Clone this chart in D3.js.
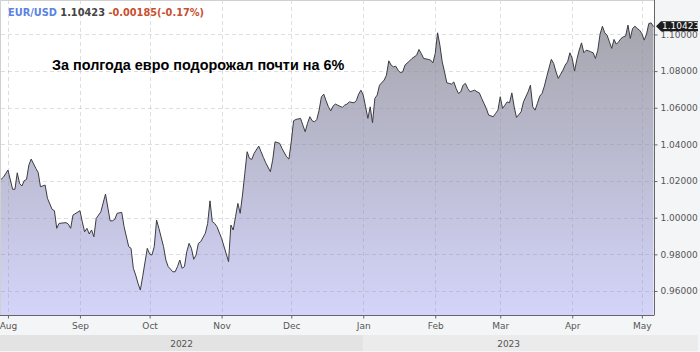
<!DOCTYPE html>
<html>
<head>
<meta charset="utf-8">
<script src="https://cdn.jsdelivr.net/npm/d3@7"></script>
<style>
  body { margin: 0; background: #f4f5f7; }
  svg { display: block; font-family: "DejaVu Sans", sans-serif; }
</style>
</head>
<body>
<div id="chart"></div>
<script>
// EUR/USD, end of Jul 2022 - start of May 2023
const dates = [
  "2022-07-29","2022-07-30","2022-08-01","2022-08-03","2022-08-04","2022-08-05","2022-08-06","2022-08-07",
  "2022-08-08","2022-08-09","2022-08-10","2022-08-11","2022-08-13","2022-08-14","2022-08-15","2022-08-17",
  "2022-08-18","2022-08-20","2022-08-21","2022-08-22","2022-08-23","2022-08-26","2022-08-27","2022-08-28",
  "2022-08-29","2022-09-01","2022-09-02","2022-09-03","2022-09-04","2022-09-05","2022-09-06","2022-09-07",
  "2022-09-08","2022-09-10","2022-09-12","2022-09-14","2022-09-15","2022-09-16","2022-09-17","2022-09-19",
  "2022-09-20","2022-09-22","2022-09-23","2022-09-24","2022-09-25","2022-09-26","2022-09-27","2022-09-28",
  "2022-09-30","2022-10-01","2022-10-02","2022-10-03","2022-10-04","2022-10-05","2022-10-07","2022-10-08",
  "2022-10-09","2022-10-11","2022-10-12","2022-10-13","2022-10-14","2022-10-15","2022-10-16","2022-10-17",
  "2022-10-18","2022-10-19","2022-10-20","2022-10-21","2022-10-22","2022-10-23","2022-10-25","2022-10-26",
  "2022-10-27","2022-10-28","2022-10-29","2022-10-30","2022-11-01","2022-11-02","2022-11-04","2022-11-05",
  "2022-11-06","2022-11-07","2022-11-08","2022-11-09","2022-11-10","2022-11-11","2022-11-12","2022-11-13",
  "2022-11-14","2022-11-15","2022-11-17","2022-11-18","2022-11-19","2022-11-20","2022-11-22","2022-11-23",
  "2022-11-24","2022-11-26","2022-11-27","2022-11-29","2022-11-30","2022-12-01","2022-12-02","2022-12-03",
  "2022-12-05","2022-12-06","2022-12-07","2022-12-08","2022-12-09","2022-12-10","2022-12-11","2022-12-12",
  "2022-12-13","2022-12-14","2022-12-15","2022-12-16","2022-12-17","2022-12-18","2022-12-19","2022-12-20",
  "2022-12-21","2022-12-23","2022-12-24","2022-12-25","2022-12-26","2022-12-28","2022-12-29","2022-12-30",
  "2022-12-31","2023-01-01","2023-01-02","2023-01-03","2023-01-04","2023-01-05","2023-01-06","2023-01-07",
  "2023-01-08","2023-01-10","2023-01-11","2023-01-12","2023-01-13","2023-01-14","2023-01-15","2023-01-16",
  "2023-01-17","2023-01-18","2023-01-19","2023-01-21","2023-01-22","2023-01-24","2023-01-25","2023-01-26",
  "2023-01-27","2023-01-29","2023-01-30","2023-01-31","2023-02-01","2023-02-02","2023-02-03","2023-02-04",
  "2023-02-05","2023-02-06","2023-02-07","2023-02-08","2023-02-09","2023-02-10","2023-02-11","2023-02-12",
  "2023-02-13","2023-02-14","2023-02-15","2023-02-16","2023-02-17","2023-02-18","2023-02-19","2023-02-20",
  "2023-02-21","2023-02-22","2023-02-23","2023-02-24","2023-02-26","2023-02-27","2023-02-28","2023-03-01",
  "2023-03-02","2023-03-03","2023-03-04","2023-03-05","2023-03-06","2023-03-07","2023-03-08","2023-03-10",
  "2023-03-11","2023-03-13","2023-03-14","2023-03-15","2023-03-16","2023-03-17","2023-03-18","2023-03-19",
  "2023-03-20","2023-03-21","2023-03-23","2023-03-24","2023-03-25","2023-03-26","2023-03-27","2023-03-28",
  "2023-03-29","2023-03-30","2023-03-31","2023-04-01","2023-04-02","2023-04-03","2023-04-04","2023-04-05",
  "2023-04-06","2023-04-07","2023-04-08","2023-04-09","2023-04-10","2023-04-11","2023-04-12","2023-04-13",
  "2023-04-14","2023-04-15","2023-04-16","2023-04-17","2023-04-18","2023-04-19","2023-04-20","2023-04-21",
  "2023-04-22","2023-04-23","2023-04-24","2023-04-25","2023-04-26","2023-04-27","2023-04-28","2023-04-29",
  "2023-04-30","2023-05-01","2023-05-02","2023-05-03","2023-05-04","2023-05-05","2023-05-06"
];
const rates = [
  1.0209,1.0220,1.0260,1.0155,1.0155,1.0245,1.0187,1.0173,
  1.0202,1.0209,1.0287,1.0320,1.0269,1.0247,1.0169,1.0178,
  1.0106,1.0046,1.0038,0.9942,0.9969,0.9973,0.9965,0.9942,
  1.0014,1.0038,0.9978,0.9923,0.9942,0.9911,0.9933,0.9896,
  0.9996,1.0032,1.0129,0.9983,0.9983,0.9991,1.0024,1.0029,
  0.9951,0.9842,0.9833,0.9724,0.9687,0.9642,0.9605,0.9678,
  0.9833,0.9802,0.9796,0.9842,0.9987,0.9942,0.9842,0.9769,
  0.9733,0.9705,0.9705,0.9733,0.9769,0.9724,0.9733,0.9814,
  0.9860,0.9833,0.9773,0.9796,0.9860,0.9869,0.9915,0.9969,
  1.0092,0.9978,0.9969,0.9951,0.9887,0.9845,0.9760,0.9960,
  0.9933,1.0005,1.0078,1.0024,1.0124,1.0242,1.0360,1.0324,
  1.0318,1.0351,1.0391,1.0360,1.0329,1.0300,1.0251,1.0314,
  1.0414,1.0406,1.0378,1.0332,1.0320,1.0414,1.0529,1.0536,
  1.0542,1.0505,1.0469,1.0515,1.0551,1.0529,1.0523,1.0536,
  1.0587,1.0660,1.0674,1.0638,1.0605,1.0583,1.0609,1.0620,
  1.0614,1.0602,1.0614,1.0620,1.0632,1.0627,1.0638,1.0674,
  1.0696,1.0669,1.0605,1.0542,1.0605,1.0518,1.0651,1.0669,
  1.0723,1.0751,1.0778,1.0856,1.0833,1.0823,1.0827,1.0805,
  1.0791,1.0796,1.0833,1.0856,1.0869,1.0887,1.0918,1.0896,
  1.0869,1.0864,1.0860,1.0845,1.0896,1.1009,1.0942,1.0851,
  1.0796,1.0736,1.0733,1.0729,1.0741,1.0705,1.0678,1.0687,
  1.0723,1.0733,1.0705,1.0687,1.0692,1.0696,1.0687,1.0681,
  1.0651,1.0624,1.0596,1.0560,1.0551,1.0569,1.0587,1.0660,
  1.0596,1.0614,1.0632,1.0627,1.0681,1.0605,1.0547,1.0578,
  1.0632,1.0687,1.0723,1.0605,1.0587,1.0624,1.0663,1.0678,
  1.0718,1.0769,1.0864,1.0842,1.0796,1.0760,1.0783,1.0805,
  1.0833,1.0851,1.0900,1.0869,1.0800,1.0864,1.0914,1.0954,
  1.0900,1.0914,1.0911,1.0905,1.0900,1.0869,1.0914,1.1002,
  1.1045,1.1009,1.0996,1.0960,1.0924,1.0973,1.0947,1.0960,
  1.0978,1.0987,1.0991,1.1051,1.0978,1.1033,1.1045,1.1033,
  1.1023,1.1005,1.0969,1.1002,1.1060,1.1063,1.10423
];
const yTicks = [0.96, 0.98, 1.00, 1.02, 1.04, 1.06, 1.08, 1.10];
const years = ["2022", "2023"];
const title = "За полгода евро подорожал почти на 6%";
const symbol = "EUR/USD";
const lastPrice = "1.10423";
const change = "-0.00185(-0.17%)";

const W = 700, H = 352;
const plot = { left: 1, right: 654, top: 0, bottom: 315 };

const parse = d3.timeParse("%Y-%m-%d");
const data = dates.map((d, i) => ({ date: parse(d), value: rates[i] }));

const svg = d3.select("#chart").append("svg")
    .attr("width", W)
    .attr("height", H);

svg.append("rect").attr("width", W).attr("height", H).attr("fill", "#f4f5f7");

const x = d3.scaleTime()
    .domain(d3.extent(data, d => d.date))
    .range([plot.left, plot.right - 0.5]);

const y = d3.scaleLinear()
    .domain([0.9469, 1.1188])
    .range([plot.bottom, plot.top]);

// gradient for the area
const defs = svg.append("defs");
const grad = defs.append("linearGradient")
    .attr("id", "fillGrad")
    .attr("gradientUnits", "userSpaceOnUse")
    .attr("x1", 0).attr("x2", 0)
    .attr("y1", plot.top).attr("y2", plot.bottom);
grad.append("stop").attr("offset", "0%").attr("stop-color", "#a2a2a8");
grad.append("stop").attr("offset", "100%").attr("stop-color", "#d4d4fa");

defs.append("clipPath").attr("id", "plotClip")
    .append("rect")
    .attr("x", plot.left).attr("y", plot.top)
    .attr("width", plot.right - plot.left).attr("height", plot.bottom - plot.top);

// plot background
svg.append("rect")
    .attr("x", plot.left).attr("y", plot.top)
    .attr("width", plot.right - plot.left).attr("height", plot.bottom - plot.top)
    .attr("fill", "#ffffff");

const g = svg.append("g").attr("clip-path", "url(#plotClip)");

const area = d3.area()
    .x(d => x(d.date))
    .y0(plot.bottom)
    .y1(d => y(d.value));

const line = d3.line()
    .x(d => x(d.date))
    .y(d => y(d.value));

g.append("path")
    .datum(data)
    .attr("d", area)
    .attr("fill", "url(#fillGrad)");

// grid lines (dashed, on top of the fill)
const monthTicks = x.ticks(d3.timeMonth.every(1));

g.append("g")
    .selectAll("line")
    .data(yTicks)
    .join("line")
    .attr("x1", plot.left).attr("x2", plot.right)
    .attr("y1", d => Math.round(y(d)) + 0.5)
    .attr("y2", d => Math.round(y(d)) + 0.5)
    .attr("stroke", "#8c8c9c")
    .attr("stroke-opacity", 0.28)
    .attr("stroke-dasharray", "4,3");

g.append("g")
    .selectAll("line")
    .data(monthTicks)
    .join("line")
    .attr("x1", d => Math.round(x(d)) + 0.5)
    .attr("x2", d => Math.round(x(d)) + 0.5)
    .attr("y1", plot.top).attr("y2", plot.bottom)
    .attr("stroke", "#8c8c9c")
    .attr("stroke-opacity", 0.28)
    .attr("stroke-dasharray", "4,3");

g.append("path")
    .datum(data)
    .attr("d", line)
    .attr("fill", "none")
    .attr("stroke", "#3c3c40")
    .attr("stroke-width", 1)
    .attr("stroke-linejoin", "round");

// plot frame
svg.append("path")
    .attr("d", `M${plot.left - 0.5},${plot.bottom}V${plot.top + 0.5}H${plot.right}`)
    .attr("fill", "none")
    .attr("stroke", "#d0d0d0");

// right axis
const yAxis = svg.append("g")
    .attr("transform", `translate(${plot.right + 0.5},0)`)
    .call(d3.axisRight(y)
        .tickValues(yTicks)
        .tickFormat(d3.format(".5f"))
        .tickSize(3)
        .tickPadding(3));
yAxis.select(".domain").attr("stroke", "#666").attr("d", `M0,${plot.top}V${plot.bottom}`);
yAxis.selectAll(".tick line").attr("stroke", "#666");
yAxis.selectAll(".tick text")
    .attr("fill", "#555")
    .style("font-family", "DejaVu Sans")
    .style("font-size", "9px");

// bottom axis
const xAxis = svg.append("g")
    .attr("transform", `translate(0,${plot.bottom + 0.5})`)
    .call(d3.axisBottom(x)
        .tickValues(monthTicks)
        .tickFormat(d3.timeFormat("%b"))
        .tickSize(3)
        .tickPadding(4));
xAxis.select(".domain").attr("stroke", "#666").attr("d", `M${plot.left - 1},0H${plot.right + 0.5}`);
xAxis.selectAll(".tick line").attr("stroke", "#666");
xAxis.selectAll(".tick text")
    .attr("fill", "#555")
    .style("font-family", "DejaVu Sans")
    .style("font-size", "9px");

// year band
const jan = x(new Date(2023, 0, 1));
const bands = [
    { label: years[0], x0: 0, x1: jan, mid: jan / 2, color: "#e3e3e4" },
    { label: years[1], x0: jan, x1: W - 2, mid: (jan + plot.right) / 2, color: "#ebebec" }
];
const yb = svg.append("g");
yb.selectAll("rect")
    .data(bands)
    .join("rect")
    .attr("x", d => d.x0).attr("y", 335)
    .attr("width", d => d.x1 - d.x0).attr("height", 16)
    .attr("fill", d => d.color);
yb.selectAll("text")
    .data(bands)
    .join("text")
    .attr("x", d => d.mid).attr("y", 346.5)
    .attr("text-anchor", "middle")
    .attr("fill", "#555")
    .style("font-size", "9px")
    .text(d => d.label);

// last price tag (sits over the top tick label, as in the source)
const last = data[data.length - 1];
const ty = y(last.value) - 0.5;
const tag = svg.append("g");
tag.append("path")
    .attr("d", `M${plot.right + 2},${ty} L${plot.right + 7},${ty - 5} H${W - 2} V${ty + 5} H${plot.right + 7} Z`)
    .attr("fill", "#1c1c1c");
tag.append("text")
    .attr("x", plot.right + 8).attr("y", ty + 3.3)
    .attr("fill", "#ffffff")
    .style("font-size", "9px")
    .text(lastPrice);

// header
const header = svg.append("text")
    .attr("x", 8).attr("y", 16)
    .style("font-size", "9.8px")
    .style("font-weight", "bold");
header.append("tspan").attr("fill", "#5b82e0").text(symbol);
header.append("tspan").attr("fill", "#444").text(" " + lastPrice);
header.append("tspan").attr("fill", "#c8502f").text(" " + change);

// title
svg.append("text")
    .attr("x", 52).attr("y", 69.5)
    .attr("fill", "#000")
    .style("font-family", "Liberation Sans, Arial, sans-serif")
    .style("font-size", "14.4px")
    .style("font-weight", "bold")
    .text(title);
</script>
</body>
</html>
